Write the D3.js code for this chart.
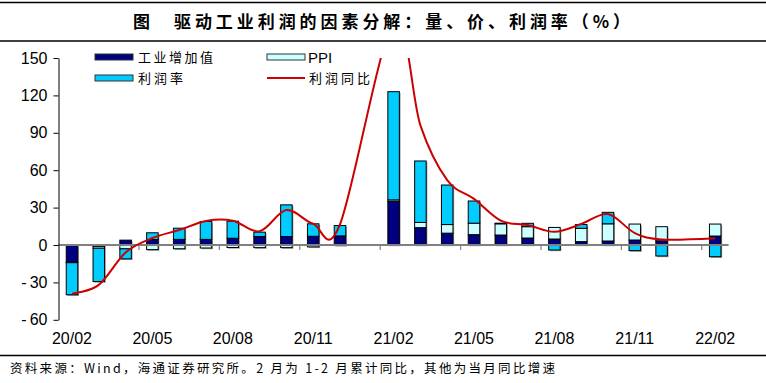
<!DOCTYPE html>
<html>
<head>
<meta charset="utf-8">
<script src="https://cdn.jsdelivr.net/npm/d3@7"></script>
<style>
  body { margin: 0; background: #fff; }
  svg { display: block; }
</style>
</head>
<body>
<svg id="canvas" width="766" height="383"></svg>
<script>
// months on the category axis, 21/01 and 22/01 are empty slots
let months = ['20/02','20/03','20/04','20/05','20/06','20/07','20/08','20/09','20/10','20/11','20/12','21/01',
              '21/02','21/03','21/04','21/05','21/06','21/07','21/08','21/09','21/10','21/11','21/12','22/01','22/02']

// 工业增加值
let iva = [-13.8,-1.1,3.9,4.4,4.5,4.5,5.4,6.8,6.8,7.0,7.3,null,35.0,13.9,9.5,8.3,8.0,5.6,4.8,2.7,3.2,4.0,3.4,null,7.2]
// PPI
let ppi = [-0.4,-1.5,-3.1,-3.7,-3.0,-2.4,-2.0,-2.1,-2.1,-1.5,-0.4,null,1.2,4.2,6.9,9.2,9.0,9.1,9.3,10.7,13.8,12.8,11.3,null,9.6]
// 利润率
let margin = [-25.7,-26.7,-8.0,5.4,9.0,14.4,13.7,3.5,25.4,10.0,8.3,null,86.8,49.3,31.7,17.8,0.5,2.7,-4.0,3.0,9.2,-4.5,-8.8,null,-9.4]
// 利润同比
let profit = [-39,-32,-6,5.6,12,19.3,19.5,11,28,17,16.5,null,179,96,52,37,19.5,16,10.6,16.8,24.8,9.6,4.5,null,5.5]

let yTicks = [-60,-30,0,30,60,90,120,150]

let colors = { iva: '#000080', ppi: '#CCFFFF', margin: '#00CCFF' }
let latin = '"Liberation Sans", Arial, sans-serif'
let cjk = '"Noto Sans CJK SC", sans-serif'

let svg = d3.select('#canvas')

let x = d3.scaleBand()
    .domain(months)
    .range([58.6, 728.6])
    .paddingInner(0.57)
    .paddingOuter(0.285)

let y = d3.scaleLinear()
    .domain([-60, 150])
    .range([319.8, 58])

let center = (m) => x(m) + x.bandwidth() / 2

// title block
svg.append('line').attr('x1', 0).attr('x2', 766).attr('y1', 2.5).attr('y2', 2.5)
    .attr('stroke', '#000').attr('stroke-width', 1.5)
svg.append('line').attr('x1', 0).attr('x2', 766).attr('y1', 41).attr('y2', 41)
    .attr('stroke', '#000').attr('stroke-width', 1.5)
svg.append('text').text('图')
    .attr('x', 133).attr('y', 28)
    .style('font-family', cjk).style('font-weight', 'bold').style('font-size', '17px')
svg.append('text').text('驱动工业利润的因素分解：量、价、利润率（%）')
    .attr('x', 174).attr('y', 28)
    .attr('textLength', 456).attr('lengthAdjust', 'spacing')
    .style('font-family', cjk).style('font-weight', 'bold').style('font-size', '17px')

// footer
svg.append('line').attr('x1', 0).attr('x2', 766).attr('y1', 355.5).attr('y2', 355.5)
    .attr('stroke', '#000').attr('stroke-width', 1.5)
svg.append('text').text('资料来源：Wind，海通证券研究所。2 月为 1-2 月累计同比，其他为当月同比增速')
    .attr('x', 10).attr('y', 373)
    .attr('textLength', 545).attr('lengthAdjust', 'spacing')
    .style('font-family', cjk).style('font-size', '12.5px')

// stacked bars, positives and negatives stacked apart
let rows = months.map((m, i) => ({
    month: m,
    iva: iva[i] || 0,
    ppi: ppi[i] || 0,
    margin: margin[i] || 0
}))

let stack = d3.stack()
    .keys(['iva', 'ppi', 'margin'])
    .offset(d3.stackOffsetDiverging)

let series = stack(rows)

let segments = []
series.forEach((s) => {
    s.forEach((d) => {
        if (d[1] - d[0] !== 0) {
            segments.push({ key: s.key, month: d.data.month, y0: d[0], y1: d[1] })
        }
    })
})

svg.append('g')
    .selectAll('rect')
    .data(segments)
    .enter()
    .append('rect')
    .attr('x', (d) => x(d.month) + 1.2)
    .attr('y', (d) => y(Math.max(d.y0, d.y1)) + 1.2)
    .attr('width', x.bandwidth())
    .attr('height', (d) => Math.abs(y(d.y0) - y(d.y1)))
    .attr('fill', '#9a9a9a')

svg.append('g')
    .selectAll('rect')
    .data(segments)
    .enter()
    .append('rect')
    .attr('x', (d) => x(d.month))
    .attr('y', (d) => y(Math.max(d.y0, d.y1)))
    .attr('width', x.bandwidth())
    .attr('height', (d) => Math.abs(y(d.y0) - y(d.y1)))
    .attr('fill', (d) => colors[d.key])
    .attr('stroke', '#000')
    .attr('stroke-width', 1)

// zero line and category ticks
svg.append('line')
    .attr('x1', x.range()[0]).attr('x2', x.range()[1])
    .attr('y1', y(0)).attr('y2', y(0))
    .attr('stroke', '#808080').attr('stroke-width', 2)

let tickMonths = months.filter((m, i) => i > 0 && i % 3 === 0)
svg.append('g')
    .selectAll('line')
    .data(tickMonths)
    .enter()
    .append('line')
    .attr('x1', (m) => center(m) - x.step() / 2)
    .attr('x2', (m) => center(m) - x.step() / 2)
    .attr('y1', y(0))
    .attr('y2', y(0) + 5)
    .attr('stroke', '#808080')
    .attr('stroke-width', 1.2)

svg.append('g')
    .selectAll('text')
    .data(months.filter((m, i) => i % 3 === 0))
    .enter()
    .append('text')
    .text((m) => m)
    .attr('x', (m) => center(m))
    .attr('y', 344)
    .attr('text-anchor', 'middle')
    .style('font-family', latin)
    .style('font-size', '16px')

// y axis
let yAxis = d3.axisLeft(y)
    .tickValues(yTicks)
    .tickSize(5)
    .tickSizeOuter(0)
    .tickPadding(6)
    .tickFormat((d) => d < 0 ? '-\u2009' + Math.abs(d) : d)

let yG = svg.append('g')
    .attr('transform', 'translate(58.5,0)')
    .call(yAxis)
yG.selectAll('text')
    .style('font-family', latin)
    .style('font-size', '16px')
    .attr('fill', '#000')
yG.selectAll('line').attr('stroke', '#000')
yG.select('.domain').attr('stroke', '#000')

// profit line, connected across the empty months, clipped at the plot top
svg.append('clipPath')
    .attr('id', 'plotClip')
    .append('rect')
    .attr('x', 58).attr('y', y(150))
    .attr('width', 672).attr('height', y(-60) - y(150))

let linePoints = months
    .map((m, i) => ({ month: m, value: profit[i] }))
    .filter((d) => d.value !== null)

let line = d3.line()
    .x((d) => center(d.month))
    .y((d) => y(d.value))
    .curve(d3.curveCatmullRom.alpha(0))

svg.append('path')
    .datum(linePoints)
    .attr('d', line)
    .attr('clip-path', 'url(#plotClip)')
    .attr('fill', 'none')
    .attr('stroke', '#CC0000')
    .attr('stroke-width', 2)

// legend
let legend = svg.append('g')
legend.append('rect').attr('x', 95).attr('y', 54).attr('width', 38).attr('height', 6)
    .attr('fill', colors.iva).attr('stroke', '#333')
legend.append('rect').attr('x', 95).attr('y', 75).attr('width', 38).attr('height', 6)
    .attr('fill', colors.margin).attr('stroke', '#333')
legend.append('rect').attr('x', 267).attr('y', 54).attr('width', 38).attr('height', 6)
    .attr('fill', colors.ppi).attr('stroke', '#333')
legend.append('line').attr('x1', 267).attr('x2', 305).attr('y1', 78).attr('y2', 78)
    .attr('stroke', '#CC0000').attr('stroke-width', 2)

let legendText = [
    { t: '工业增加值', x: 138, y: 62, w: 75, f: cjk },
    { t: '利润率', x: 138, y: 83, w: 45, f: cjk },
    { t: '利润同比', x: 309, y: 83, w: 61, f: cjk }
]
legendText.forEach((d) => {
    legend.append('text').text(d.t)
        .attr('x', d.x).attr('y', d.y)
        .attr('textLength', d.w).attr('lengthAdjust', 'spacing')
        .style('font-family', d.f).style('font-size', '13px')
})
legend.append('text').text('PPI')
    .attr('x', 308).attr('y', 63)
    .style('font-family', latin).style('font-size', '15px')
</script>
</body>
</html>
